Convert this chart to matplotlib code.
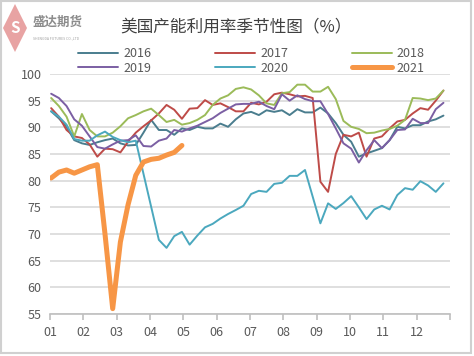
import numpy as np
import matplotlib
matplotlib.use("Agg")
import matplotlib.pyplot as plt
from matplotlib.patches import Rectangle, Polygon

plt.rcParams['font.family'] = ['Noto Sans CJK SC', 'DejaVu Sans']

# weekly capacity utilisation (%), one value per week
months = ["01", "02", "03", "04", "05", "06", "07", "08", "09", "10", "11", "12"]
years = ["2016", "2017", "2018", "2019", "2020", "2021"]

y2016 = [93.0, 91.7, 90.1, 87.6, 87.0, 86.7, 87.2, 87.6, 87.9, 87.0,
         86.6, 86.7, 89.0, 91.4, 89.5, 89.5, 88.6, 89.8, 89.5, 90.1,
         89.8, 89.8, 90.7, 90.1, 91.5, 92.6, 92.9, 92.3, 93.2, 92.9,
         93.2, 92.3, 93.4, 92.8, 92.8, 93.7, 92.6, 90.8, 88.6, 87.3,
         84.5, 85.1, 85.6, 86.1, 87.6, 90.1, 89.8, 90.4, 90.4, 91.1,
         91.5, 92.2]
y2017 = [93.6, 92.0, 89.5, 88.3, 88.0, 86.8, 84.5, 86.0, 85.9, 85.3,
         87.3, 89.0, 90.2, 91.3, 92.6, 94.2, 93.3, 91.6, 93.5, 93.6,
         95.1, 94.2, 94.5, 93.8, 93.0, 93.0, 94.6, 94.3, 94.8, 96.2,
         96.5, 96.2, 95.8, 95.9, 95.5, 79.8, 77.9, 85.0, 88.6, 88.3,
         89.0, 84.5, 87.9, 88.3, 89.8, 91.1, 91.4, 92.6, 93.6, 93.3,
         95.0, 96.9]
y2018 = [95.5, 94.0, 92.0, 88.3, 92.5, 89.5, 88.3, 88.3, 89.0, 90.2,
         91.7, 92.3, 93.0, 93.5, 92.3, 91.0, 91.4, 90.5, 90.8, 91.4,
         92.3, 94.2, 95.4, 96.0, 97.2, 97.5, 97.1, 96.0, 94.5, 94.2,
         96.4, 96.6, 98.0, 98.0, 96.7, 96.7, 97.6, 95.3, 91.2, 90.1,
         89.7, 88.9, 89.0, 89.4, 89.7, 90.3, 91.4, 95.5, 95.4, 95.1,
         95.4, 96.9]
y2019 = [96.3, 95.5, 94.0, 91.5, 90.3, 88.3, 86.3, 86.0, 86.8, 87.5,
         87.6, 88.5, 86.5, 86.4, 87.5, 87.9, 89.5, 89.2, 89.8, 90.3,
         91.0, 91.7, 92.7, 93.5, 94.3, 94.4, 94.4, 94.8, 94.0, 93.4,
         96.2, 95.0, 96.0, 95.3, 94.9, 94.9, 92.5, 89.8, 87.0, 86.0,
         83.4, 85.7, 87.6, 86.1, 87.6, 89.5, 89.6, 91.6, 90.8, 90.8,
         93.4, 94.6]
y2020 = [93.0, 92.0, 90.5, 87.8, 87.5, 87.5, 88.5, 89.2, 88.2, 87.6,
         87.2, 87.5, 81.3, 75.1, 68.9, 67.4, 69.6, 70.4, 68.0, 69.7,
         71.25, 71.9, 72.9, 73.75, 74.5, 75.3, 77.5, 78.1, 77.9, 79.4,
         79.6, 80.9, 80.9, 82.0, 77.0, 72.0, 75.75, 74.7, 75.8, 77.1,
         75.0, 72.8, 74.6, 75.3, 74.6, 77.3, 78.6, 78.3, 79.9, 79.1,
         77.9, 79.5]
y2021 = [80.5, 81.6, 82.0, 81.4, 82.0, 82.6, 83.0, 70.0, 56.0, 68.5,
         75.5, 81.0, 83.5, 84.0, 84.2, 84.8, 85.3, 86.6]

series = [y2016, y2017, y2018, y2019, y2020, y2021]
colors = ["#4A7D8E", "#BE4B48", "#9BBB59", "#7B5FA3", "#4BA8BE", "#F79646"]
widths = [1.4, 1.4, 1.4, 1.4, 1.4, 3.6]

W, H = 474, 356
fig = plt.figure(figsize=(W / 100, H / 100), dpi=100)
ax = fig.add_axes([50 / W, 1 - 314 / H, 400 / W, 240 / H])

lines = {}
for name, vals, c, lw in zip(years, series, colors, widths):
    x = (np.arange(len(vals)) + 0.15) * 12 / 52
    ln, = ax.plot(x, vals, color=c, lw=lw, solid_capstyle='round',
                  solid_joinstyle='round', label=name)
    lines[name] = ln

ax.set_xlim(0, 12)
ax.set_ylim(55, 100)
ax.set_yticks(range(55, 101, 5))
ax.set_xticks(range(13))
ax.set_xticklabels(months + [""])
ax.grid(axis='y', color="#D9D9D9", lw=1.2)
ax.set_axisbelow(True)
for s in ["left", "top", "right"]:
    ax.spines[s].set_visible(False)
ax.spines["bottom"].set_color("#BFBFBF")
ax.spines["bottom"].set_linewidth(1.2)
ax.tick_params(axis='x', colors="#595959", labelsize=9, length=4,
               color="#BFBFBF", width=1.2, pad=5)
ax.tick_params(axis='y', colors="#595959", labelsize=9, length=0, pad=6)

order = ["2016", "2019", "2017", "2020", "2018", "2021"]
fig.legend([lines[k] for k in order], order, ncol=3, frameon=False,
           loc='upper left', bbox_to_anchor=(72 / W, 1 - 41 / H),
           fontsize=9, handlelength=3.2, handletextpad=0.4,
           columnspacing=5.1, labelspacing=0.1, borderpad=0,
           labelcolor="#595959")

fig.text(236 / W, 1 - 28 / H, "美国产能利用率季节性图（%）", ha='center',
         va='center', fontsize=12, color="#404040")

# logo
fig.patches.append(Polygon([[3 / W, 1 - 28 / H], [15 / W, 1 - 4 / H],
                            [27 / W, 1 - 28 / H], [15 / W, 1 - 52 / H]],
                           closed=True, transform=fig.transFigure,
                           facecolor="#E8A3A3", edgecolor="none"))
fig.text(15 / W, 1 - 28 / H, "S", ha='center', va='center', fontsize=11,
         color="white", fontweight='bold')
fig.text(33 / W, 1 - 22 / H, "盛达期货", ha='left', va='center', fontsize=9,
         color="#8C8C8C", fontweight='bold')
fig.text(33 / W, 1 - 38 / H, "SHENGDA FUTURES CO.,LTD", ha='left',
         va='center', fontsize=2.5, color="#A0A0A0")

fig.patches.append(Rectangle((1 / W, 1 - 353 / H), 470 / W, 352 / H,
                             transform=fig.transFigure, fill=False,
                             edgecolor="#D0D0D0", lw=1.5))

fig.savefig("out.png", dpi=100)
